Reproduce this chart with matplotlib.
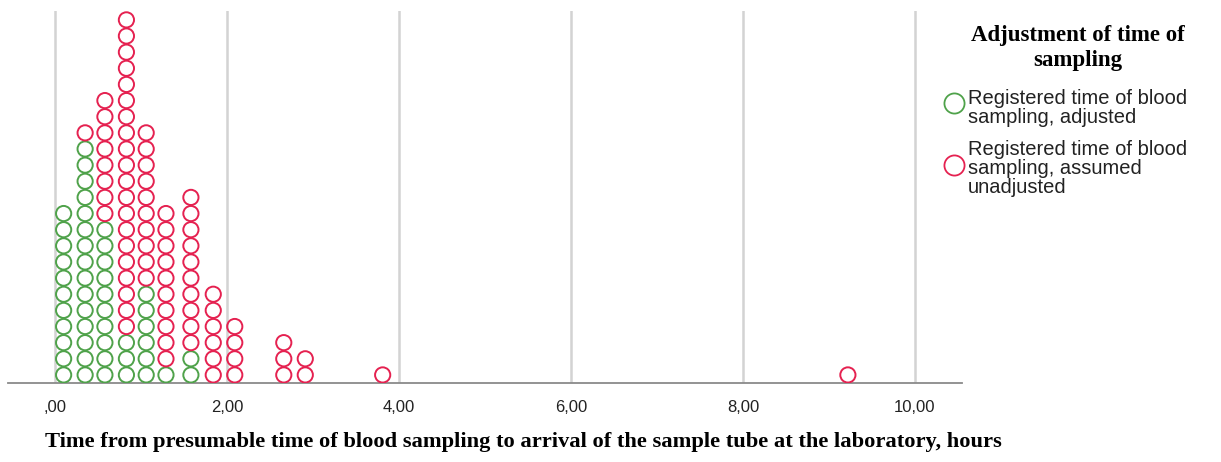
import matplotlib
matplotlib.use("Agg")
import matplotlib.pyplot as plt
from matplotlib.lines import Line2D
import numpy as np

# bin centres (hours) and dot counts per group
bin_hours = [0.10, 0.35, 0.58, 0.83, 1.06, 1.29, 1.58, 1.84, 2.09, 2.66, 2.91, 3.81, 9.22]
adjusted_counts = [11, 15, 10, 3, 6, 1, 2, 0, 0, 0, 0, 0, 0]
unadjusted_counts = [0, 1, 8, 20, 10, 10, 10, 6, 4, 3, 2, 1, 1]

tick_values = [0, 2, 4, 6, 8, 10]
tick_labels = [",00", "2,00", "4,00", "6,00", "8,00", "10,00"]

legend_title = "Adjustment of time of\nsampling"
group_labels = ["Registered time of blood\nsampling, adjusted",
                "Registered time of blood\nsampling, assumed\nunadjusted"]
green = "#4fa24a"
red = "#e52150"

W, H = 1221, 462
fig = plt.figure(figsize=(W / 100, H / 100), dpi=100)
ax = fig.add_axes([8 / W, (H - 383) / H, 954 / W, 372 / H])

# stack the dots: adjusted at the bottom, unadjusted on top
gx, gy, rx, ry = [], [], [], []
for x, ng, nr in zip(bin_hours, adjusted_counts, unadjusted_counts):
    for k in range(ng):
        gx.append(x)
        gy.append(k)
    for k in range(nr):
        rx.append(x)
        ry.append(ng + k)

msize = 120
ax.scatter(gx, gy, s=msize, facecolors="none", edgecolors=green, linewidths=1.4, zorder=3)
ax.scatter(rx, ry, s=msize, facecolors="none", edgecolors=red, linewidths=1.4, zorder=3)

ax.set_xlim(-0.547, 10.547)
ax.set_ylim(-0.5, 22.55)
ax.set_xticks(tick_values)
ax.set_xticklabels(tick_labels, fontname="Liberation Sans", fontsize=12, color="#222222")
ax.set_yticks([])
ax.tick_params(axis="x", length=0, pad=12)
ax.grid(axis="x", color="#d3d3d3", linewidth=1.8, zorder=0)
for side in ["top", "left", "right"]:
    ax.spines[side].set_visible(False)
ax.spines["bottom"].set_color("#8a8a8a")
ax.spines["bottom"].set_linewidth(1.3)

fig.text(523 / W, 1 - 442 / H,
         "Time from presumable time of blood sampling to arrival of the sample tube at the laboratory, hours",
         ha="center", va="center", fontname="Liberation Serif", fontweight="bold", fontsize=16.2)

# legend drawn by hand
fig.text(1078 / W, 1 - 48 / H, legend_title, ha="center", va="center",
         fontname="Liberation Serif", fontweight="bold", fontsize=16.5, linespacing=1.25)
for col, mk_y in zip([green, red], [103, 165]):
    fig.add_artist(Line2D([954 / W], [1 - mk_y / H], marker="o", markersize=14.5,
                          markerfacecolor="none", markeredgecolor=col, markeredgewidth=1.3,
                          transform=fig.transFigure))
fig.text(968 / W, 1 - 89 / H, group_labels[0], ha="left", va="top",
         fontname="Liberation Sans", fontsize=14.5, linespacing=1.0, color="#222222")
fig.text(968 / W, 1 - 140 / H, group_labels[1], ha="left", va="top",
         fontname="Liberation Sans", fontsize=14.5, linespacing=1.0, color="#222222")

fig.savefig("out.png", dpi=100)
